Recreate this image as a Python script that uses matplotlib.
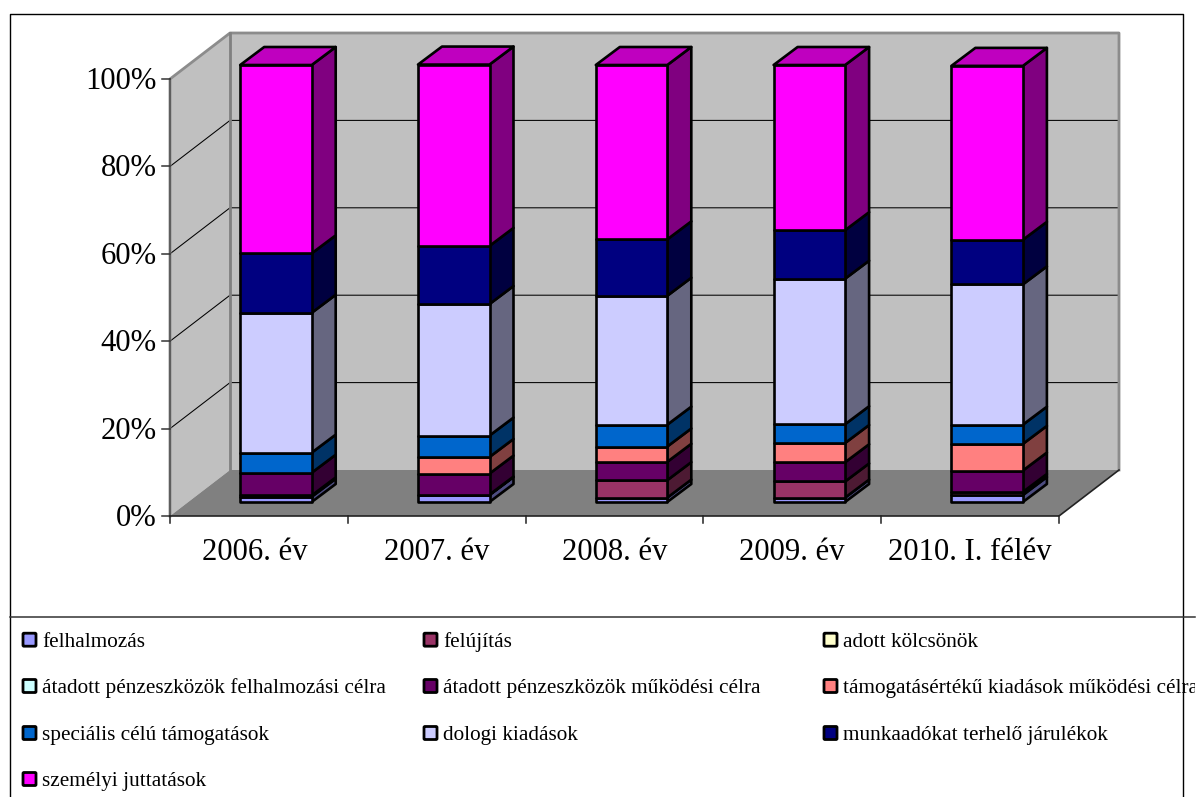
import matplotlib
matplotlib.use("Agg")
import matplotlib.pyplot as plt
from matplotlib.patches import Polygon, Rectangle, FancyBboxPatch
from matplotlib.transforms import Affine2D
from matplotlib.colors import to_rgb

plt.rcParams['font.family'] = ['Liberation Serif', 'DejaVu Serif']

categories = ["2006. év", "2007. év", "2008. év", "2009. év", "2010. I. félév"]
series_names = ["felhalmozás", "felújítás", "adott kölcsönök",
                "átadott pénzeszközök felhalmozási célra",
                "átadott pénzeszközök működési célra",
                "támogatásértékű kiadások működési célra",
                "speciális célú támogatások", "dologi kiadások",
                "munkaadókat terhelő járulékok", "személyi juttatások"]
felhalmozas = [1.2, 1.6, 1.0, 1.0, 1.6]
felujitas = [0.3, 0.1, 4.0, 3.7, 0.7]
adott_kolcsonok = [0.0, 0.0, 0.0, 0.0, 0.0]
atadott_felh = [0.0, 0.0, 0.0, 0.0, 0.0]
atadott_muk = [5.2, 4.8, 4.2, 4.4, 4.9]
tamogatas = [0.0, 3.8, 3.5, 4.4, 6.1]
specialis = [4.6, 4.9, 5.0, 4.3, 4.4]
dologi = [32.0, 30.1, 29.5, 33.3, 32.1]
munkaado = [13.6, 13.3, 12.9, 11.1, 10.2]
szemelyi = [43.1, 41.5, 39.9, 37.8, 39.8]
series = [felhalmozas, felujitas, adott_kolcsonok, atadott_felh, atadott_muk,
          tamogatas, specialis, dologi, munkaado, szemelyi]
colors = ["#9999FF", "#993366", "#FFFFCC", "#CCFFFF", "#660066",
          "#FF8080", "#0066CC", "#CCCCFF", "#000080", "#FF00FF"]
y_ticks = [0, 20, 40, 60, 80, 100]

W, H = 1199, 797
X0, Y0, PX_CAT, PX_PCT = 170.0, 516.0, 177.8, 4.37   # plot scale
fig = plt.figure(figsize=(W / 100, H / 100), dpi=100, facecolor="white")
ax = fig.add_axes([0, 0, 1, 1])
ax.set_xlim(-X0 / PX_CAT, (W - X0) / PX_CAT)
ax.set_ylim(-(H - Y0) / PX_PCT, Y0 / PX_PCT)
ax.axis("off")
px = Affine2D().scale(1, -1).translate(0, H)   # layout in pixels, top-left origin

DX, DY = 60 / PX_CAT, 46 / PX_PCT       # depth of the chart box
BX, BY = 24 / PX_CAT, 18 / PX_PCT       # depth of a bar
BAR_L, BAR_W = 70.2 / PX_CAT, 71.5 / PX_CAT
BAR_Y = 14 / PX_PCT
n = len(categories)
GRAY = "#808080"
label_shift = [-4, 0, 0, 0, 0]          # pixels, category label placement


def shade(c, f):
    return tuple(v * f for v in to_rgb(c))


# walls and floor
ax.add_patch(Polygon([(0, 0), (0, 100), (DX, 100 + DY), (DX, DY)], fc="#C0C0C0", ec="none", zorder=1))
ax.add_patch(Rectangle((DX, DY), n, 100, fc="#C0C0C0", ec="none", zorder=1))
for t in y_ticks[1:-1]:
    ax.plot([0, DX, n + DX], [t, t + DY, t + DY], color="black", lw=0.75, zorder=2, solid_capstyle="butt")
ax.add_patch(Polygon([(0, 0), (n, 0), (n + DX, DY), (DX, DY)], fc=GRAY, ec="none", zorder=3))
ax.plot([0, 0, DX, n + DX, n + DX], [0, 100, 100 + DY, 100 + DY, DY], color="#8c8c8c", lw=2.0, zorder=3)
ax.plot([DX, DX], [DY, 100 + DY], color=GRAY, lw=2.0, zorder=3)
ax.plot([0, 0], [0, 100], color="#555555", lw=1.2, zorder=4)
ax.plot([0, n, n + DX], [0, 0, DY], color="#222222", lw=1.2, zorder=4)

# axis ticks and labels
for t in y_ticks:
    ax.plot([-8.5 / PX_CAT, 0], [t, t], color="#333333", lw=1.1, zorder=4)
    ax.text(-13.5 / PX_CAT, t - 10 / PX_PCT, f"{t}%", ha="right", va="baseline", fontsize=22.1, color="black")
for i in range(n + 1):
    ax.plot([i, i], [0, -7 / PX_PCT], color="#222222", lw=1.1, zorder=4)
for i, c in enumerate(categories):
    ax.text(i + 0.5 + label_shift[i] / PX_CAT, -44 / PX_PCT, c, ha="center", va="baseline",
            fontsize=22.1, color="black")

# stacked 3D bars
LW = 1.9
for i in range(n):
    x0 = i + BAR_L
    x1 = x0 + BAR_W
    base = BAR_Y
    z = 10 + i
    for s, col in zip(series, colors):
        v = s[i]
        if v <= 0:
            continue
        top = base + v
        ax.add_patch(Polygon([(x1, base), (x1 + BX, base + BY), (x1 + BX, top + BY), (x1, top)],
                             fc=shade(col, 0.5), ec="black", lw=LW, zorder=z, joinstyle="round"))
        ax.add_patch(Polygon([(x0, base), (x1, base), (x1, top), (x0, top)],
                             fc=col, ec="black", lw=LW, zorder=z, joinstyle="round"))
        base = top
    ax.add_patch(Polygon([(x0, base), (x1, base), (x1 + BX, base + BY), (x0 + BX, base + BY)],
                         fc=shade(colors[-1], 0.75), ec="black", lw=LW, zorder=z, joinstyle="round"))

# frame
FR = "#333333"
ax.plot([10, 10, 1183, 1183], [797, 13.5, 13.5, 797], color="black", lw=1.0, transform=px, zorder=5)
ax.plot([10, 1195], [616.5, 616.5], color=FR, lw=1.1, transform=px, zorder=5)

# legend
col_x = [22, 423, 823]
row_base = [646.7, 693, 740, 786]
clip = Rectangle((0, 0), 1195, H, transform=px, fc="none", ec="none")
ax.add_patch(clip)
for k, (name, col) in enumerate(zip(series_names, colors)):
    r, c = k // 3, k % 3
    ax.add_patch(FancyBboxPatch((col_x[c] + 1, row_base[r] - 13.5), 13, 13,
                                boxstyle="round,pad=0,rounding_size=1", fc=col, ec="black",
                                lw=2.0, transform=px, zorder=6))
    txt = ax.text(col_x[c] + 20, row_base[r], name, ha="left", va="baseline", fontsize=15.3,
                  color="black", transform=px, zorder=6)
    txt.set_clip_path(clip)
    txt.set_clip_on(True)

fig.savefig("out.png", dpi=100, facecolor="white")
